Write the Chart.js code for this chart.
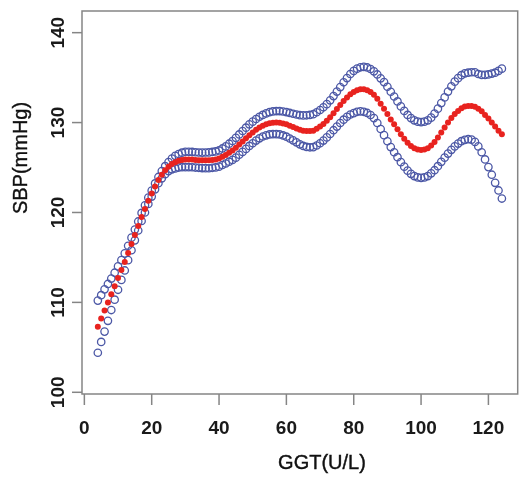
<!DOCTYPE html>
<html>
<head>
<meta charset="utf-8">
<title>SBP vs GGT</title>
<script src="https://cdn.jsdelivr.net/npm/chart.js@4.4.1/dist/chart.umd.min.js"></script>
<style>
  html, body { margin: 0; padding: 0; background: #ffffff; }
  #chartBox { width: 523px; height: 477px; }
</style>
</head>
<body>
<div id="chartBox"><canvas id="sbpChart" width="523" height="477"></canvas></div>
<script>
// GGT values (U/L), one point per unit
const ggt = [
  4, 5, 6, 7, 8, 9, 10, 11, 12, 13,
  14, 15, 16, 17, 18, 19, 20, 21, 22, 23,
  24, 25, 26, 27, 28, 29, 30, 31, 32, 33,
  34, 35, 36, 37, 38, 39, 40, 41, 42, 43,
  44, 45, 46, 47, 48, 49, 50, 51, 52, 53,
  54, 55, 56, 57, 58, 59, 60, 61, 62, 63,
  64, 65, 66, 67, 68, 69, 70, 71, 72, 73,
  74, 75, 76, 77, 78, 79, 80, 81, 82, 83,
  84, 85, 86, 87, 88, 89, 90, 91, 92, 93,
  94, 95, 96, 97, 98, 99, 100, 101, 102, 103,
  104, 105, 106, 107, 108, 109, 110, 111, 112, 113,
  114, 115, 116, 117, 118, 119, 120, 121, 122, 123,
  124
];

// Fitted SBP (red dots)
const fitSbp = [
  107.3, 108.2, 109.1, 110.0, 110.9, 111.8, 112.7, 113.6, 114.5, 115.5,
  116.5, 117.5, 118.5, 119.5, 120.4, 121.3, 122.1, 122.9, 123.6, 124.2,
  124.7, 125.1, 125.4, 125.6, 125.75, 125.85, 125.9, 125.9, 125.88, 125.85,
  125.82, 125.8, 125.8, 125.8, 125.85, 125.9, 126.0, 126.2, 126.4, 126.65,
  126.9, 127.2, 127.55, 127.9, 128.25, 128.6, 128.9, 129.2, 129.45, 129.65,
  129.8, 129.92, 129.98, 130.0, 129.98, 129.9, 129.8, 129.65, 129.5, 129.35,
  129.2, 129.1, 129.05, 129.05, 129.1, 129.3, 129.55, 129.85, 130.2, 130.6,
  131.05, 131.5, 131.95, 132.4, 132.8, 133.15, 133.4, 133.6, 133.7, 133.7,
  133.6, 133.4, 133.1, 132.65, 132.1, 131.55, 130.95, 130.35, 129.8, 129.25,
  128.7, 128.2, 127.75, 127.4, 127.15, 127.0, 126.95, 127.0, 127.15, 127.45,
  127.85, 128.35, 128.9, 129.45, 130.0, 130.5, 130.95, 131.3, 131.6, 131.78,
  131.85, 131.85, 131.75, 131.55, 131.25, 130.85, 130.45, 130.0, 129.55, 129.1,
  128.7
];

// Upper confidence limit (blue open circles)
const upperSbp = [
  110.2, 110.8, 111.45, 112.05, 112.65, 113.3, 114.0, 114.7, 115.45, 116.3,
  117.2, 118.1, 119.0, 119.95, 120.8, 121.65, 122.43, 123.23, 123.95, 124.6,
  125.15, 125.6, 126.0, 126.3, 126.5, 126.65, 126.75, 126.75, 126.73, 126.7,
  126.67, 126.66, 126.67, 126.68, 126.73, 126.79, 126.9, 127.12, 127.35, 127.65,
  127.95, 128.3, 128.68, 129.06, 129.43, 129.8, 130.1, 130.4, 130.65, 130.85,
  131.02, 131.16, 131.24, 131.28, 131.28, 131.23, 131.17, 131.07, 130.98, 130.9,
  130.82, 130.8, 130.81, 130.85, 130.93, 131.15, 131.4, 131.7, 132.05, 132.47,
  132.95, 133.45, 133.95, 134.48, 134.95, 135.4, 135.75, 136.0, 136.15, 136.2,
  136.13, 135.96, 135.7, 135.35, 134.92, 134.5, 133.98, 133.43, 132.9, 132.35,
  131.8, 131.3, 130.85, 130.5, 130.25, 130.1, 130.05, 130.1, 130.25, 130.55,
  131.0, 131.55, 132.17, 132.8, 133.45, 134.03, 134.55, 134.94, 135.27, 135.48,
  135.55, 135.6, 135.6, 135.4, 135.3, 135.3, 135.35, 135.45, 135.55, 135.75,
  136.0
];

// Lower confidence limit (blue open circles)
const lowerSbp = [
  104.4, 105.6, 106.75, 107.95, 109.15, 110.3, 111.4, 112.5, 113.55, 114.7,
  115.8, 116.9, 118.0, 119.05, 120.0, 120.95, 121.77, 122.57, 123.25, 123.8,
  124.25, 124.6, 124.8, 124.9, 125.0, 125.05, 125.05, 125.05, 125.03, 125.0,
  124.97, 124.94, 124.93, 124.92, 124.97, 125.01, 125.1, 125.28, 125.45, 125.65,
  125.85, 126.1, 126.42, 126.74, 127.07, 127.4, 127.7, 128.0, 128.25, 128.45,
  128.58, 128.68, 128.72, 128.72, 128.68, 128.57, 128.43, 128.23, 128.02, 127.8,
  127.58, 127.4, 127.29, 127.25, 127.27, 127.45, 127.7, 128.0, 128.35, 128.73,
  129.15, 129.55, 129.95, 130.32, 130.65, 130.9, 131.05, 131.2, 131.25, 131.2,
  131.07, 130.84, 130.5, 129.95, 129.28, 128.6, 127.92, 127.27, 126.7, 126.15,
  125.6, 125.1, 124.65, 124.3, 124.05, 123.9, 123.85, 123.9, 124.05, 124.35,
  124.7, 125.15, 125.63, 126.1, 126.55, 126.97, 127.35, 127.66, 127.93, 128.08,
  128.15, 128.1, 127.85, 127.35, 126.7, 125.9, 125.05, 124.2, 123.3, 122.45,
  121.55
];

// Axis ticks and titles
const xTicks = [0, 20, 40, 60, 80, 100, 120];
const yTicks = [100, 110, 120, 130, 140];
const xTitle = 'GGT(U/L)';
const yTitle = 'SBP(mmHg)';

function toPoints(values) {
  return ggt.map((x, i) => ({ x: x, y: values[i] }));
}

// Draws the R-style box, ticks and titles
const rAxesPlugin = {
  id: 'rAxes',
  afterDraw(chart) {
    const ctx = chart.ctx;
    const area = chart.chartArea;
    const xScale = chart.scales.x;
    const yScale = chart.scales.y;
    ctx.save();

    ctx.strokeStyle = '#858585';
    ctx.lineWidth = 1.5;
    ctx.strokeRect(area.left, area.top, area.right - area.left, area.bottom - area.top);

    ctx.fillStyle = '#1a1a1a';
    ctx.font = 'bold 19px "Liberation Sans", Arial, sans-serif';
    ctx.textAlign = 'center';
    ctx.textBaseline = 'alphabetic';

    xTicks.forEach(v => {
      const px = xScale.getPixelForValue(v);
      ctx.beginPath();
      ctx.moveTo(px, area.bottom);
      ctx.lineTo(px, area.bottom + 11);
      ctx.stroke();
      ctx.fillText(String(v), px, 434);
    });

    yTicks.forEach(v => {
      const py = yScale.getPixelForValue(v);
      ctx.beginPath();
      ctx.moveTo(area.left - 10, py);
      ctx.lineTo(area.left, py);
      ctx.stroke();
      ctx.save();
      ctx.translate(63.5, py);
      ctx.rotate(-Math.PI / 2);
      ctx.fillText(String(v), 0, 0);
      ctx.restore();
    });

    // axis titles, slightly heavier than plain text
    ctx.font = '20px "Liberation Sans", Arial, sans-serif';
    ctx.fillStyle = '#111111';
    ctx.strokeStyle = '#111111';
    ctx.lineWidth = 0.4;
    ctx.fillText(xTitle, 322, 469);
    ctx.strokeText(xTitle, 322, 469);

    ctx.save();
    ctx.translate(26.5, 158);
    ctx.rotate(-Math.PI / 2);
    ctx.fillText(yTitle, 0, 0);
    ctx.strokeText(yTitle, 0, 0);
    ctx.restore();

    ctx.restore();
  }
};

const sbpCtx = document.getElementById('sbpChart').getContext('2d');
new Chart(sbpCtx, {
  type: 'scatter',
  data: {
    datasets: [
      {
        label: 'Fitted',
        data: toPoints(fitSbp),
        pointRadius: 3,
        pointBackgroundColor: '#e8231f',
        pointBorderWidth: 0,
        pointBorderColor: '#e8231f'
      },
      {
        label: 'Upper',
        data: toPoints(upperSbp),
        pointRadius: 3.7,
        pointBackgroundColor: 'rgba(0,0,0,0)',
        pointBorderColor: '#4c58a6',
        pointBorderWidth: 1.3
      },
      {
        label: 'Lower',
        data: toPoints(lowerSbp),
        pointRadius: 3.7,
        pointBackgroundColor: 'rgba(0,0,0,0)',
        pointBorderColor: '#4c58a6',
        pointBorderWidth: 1.3
      }
    ]
  },
  options: {
    responsive: false,
    animation: false,
    devicePixelRatio: 1,
    layout: { padding: { left: 82, right: 1, top: 11, bottom: 83 } },
    plugins: {
      legend: { display: false },
      tooltip: { enabled: false }
    },
    scales: {
      x: { type: 'linear', display: false, min: -0.7, max: 128.7 },
      y: { type: 'linear', display: false, min: 99.81, max: 142.41 }
    }
  },
  plugins: [rAxesPlugin]
});
</script>
</body>
</html>
